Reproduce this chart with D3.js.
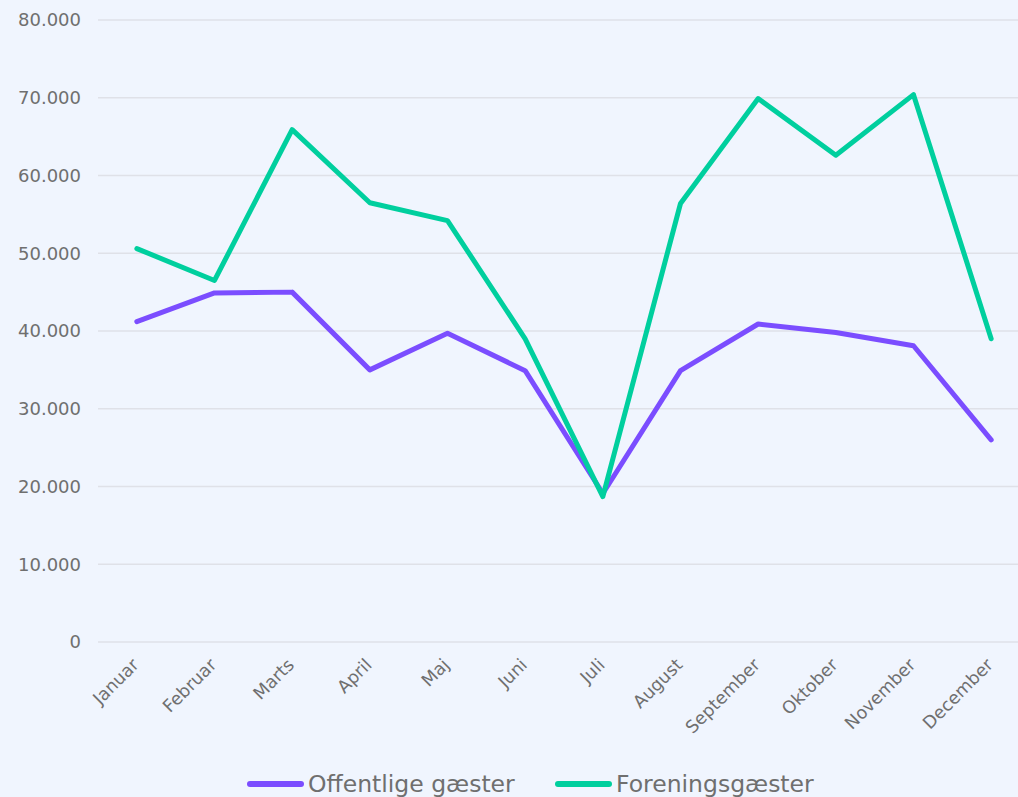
<!DOCTYPE html>
<html><head><meta charset="utf-8">
<script src="https://cdn.jsdelivr.net/npm/d3@7"></script>
<style>
html,body{margin:0;padding:0;background:#f0f5fe;}
svg{display:block;font-family:"DejaVu Sans",sans-serif;}
</style></head>
<body><svg id="chart" width="1018" height="797"></svg>
<script>
const months = ["Januar","Februar","Marts","April","Maj","Juni","Juli","August","September","Oktober","November","December"];
const offentlige = [41200,44900,45000,35000,39700,34900,19100,34900,40900,39800,38100,26000];
const forening = [50600,46500,65900,56500,54200,39000,18700,56400,69900,62600,70400,39000];
const yTicks = [0,10000,20000,30000,40000,50000,60000,70000,80000];
const seriesNames = ["Offentlige gæster","Foreningsgæster"];
const seriesColors = ["#7b4dff","#00cf9e"];

const svg = d3.select("#chart");
const x = d3.scaleBand().domain(months).range([98, 1030]);
const y = d3.scaleLinear().domain([0,80000]).range([642, 20]);
const fmt = v => d3.format(",")(v).replace(/,/g,".");

// grid
svg.append("g").selectAll("line").data(yTicks).join("line")
  .attr("x1",98).attr("x2",1030)
  .attr("y1",d=>y(d)).attr("y2",d=>y(d))
  .attr("stroke","#dfe1e8").attr("stroke-width",1.5);

// y axis labels
const yAxis = d3.axisLeft(y).tickValues(yTicks).tickFormat(fmt).tickSize(0).tickPadding(0);
const yg = svg.append("g").attr("transform","translate(81,0)").call(yAxis);
yg.select(".domain").remove();
yg.selectAll("text").attr("fill","#6f6f6f").style("font-size","18px").style("font-family","DejaVu Sans");

// x axis labels
const xAxis = d3.axisBottom(x).tickSize(0).tickPadding(0);
const xg = svg.append("g").attr("transform","translate(0,642)").call(xAxis);
xg.select(".domain").remove();
xg.selectAll("text")
  .attr("fill","#6f6f6f").style("font-size","17.5px").style("font-family","DejaVu Sans")
  .attr("text-anchor","end").attr("dy","0")
  .attr("transform","translate(3,24) rotate(-45)");

// lines
const line = d3.line().x((d,i)=>x(months[i])+x.bandwidth()/2).y(d=>y(d));
[offentlige, forening].forEach((data,k)=>{
  svg.append("path").datum(data).attr("d",line)
    .attr("fill","none").attr("stroke",seriesColors[k]).attr("stroke-width",5)
    .attr("stroke-linejoin","round").attr("stroke-linecap","round");
});

// legend
const legendX = [250, 558];
seriesNames.forEach((n,k)=>{
  const g = svg.append("g").attr("transform",`translate(${legendX[k]},784)`);
  g.append("line").attr("x1",0).attr("x2",51).attr("y1",0).attr("y2",0)
    .attr("stroke",seriesColors[k]).attr("stroke-width",6).attr("stroke-linecap","round");
  g.append("text").attr("x",58).attr("y",0).attr("dy","0.35em")
    .attr("fill","#6f6f6f").style("font-size","23.5px").text(n);
});
</script></body></html>
